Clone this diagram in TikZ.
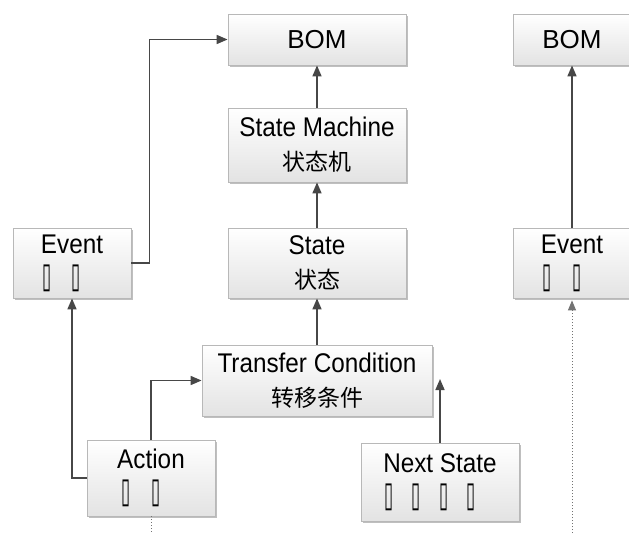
\documentclass[tikz,border=0pt]{standalone}
\usepackage{fontspec}
\usepackage{graphicx}
\setmainfont{Liberation Sans}
\newfontfamily\nar{Liberation Sans}[FakeStretch=0.9]
\newfontfamily\cjk{Noto Sans CJK SC}
\newfontfamily\dv{DejaVu Sans}
\usetikzlibrary{arrows.meta,shadows}
\newcommand{\tofu}{\scalebox{0.75}[1.6]{\dv\fontsize{22}{33}\selectfont ▯}}
\newcommand{\zh}[1]{{\cjk\fontsize{23}{34}\selectfont #1}}
\newcommand{\tail}{\hspace{20pt}\mbox{}}
\tikzset{
  box/.style={draw=black!28, line width=0.8pt, top color=white, bottom color=black!11,
    drop shadow={shadow xshift=1.5pt, shadow yshift=-1.5pt, opacity=0.25, fill=black},
    inner sep=0pt, align=center, font=\nar\fontsize{27}{34}\selectfont},
  bomfont/.style={font=\fontsize{26}{30}\selectfont},
  arr/.style={draw=black!72, line width=1.6pt, -{Triangle[length=11pt,width=9pt]}},
  dots/.style={draw=black!55, line width=1pt, dotted}
}
\begin{document}
\begin{tikzpicture}[x=1pt,y=-1pt]
\useasboundingbox (0,0) rectangle (629,533);
\fill[white] (0,0) rectangle (629,533);
\clip (0,0) rectangle (629,533);
\node[box, bomfont, minimum width=178pt, minimum height=51pt] (bom1) at (317,39.5) {BOM};
\node[box, minimum width=178pt, minimum height=74pt] (sm) at (317,145) {State Machine\\\zh{状态机}};
\node[box, minimum width=178pt, minimum height=70pt] (st) at (317,263) {State\\\zh{状态}};
\node[box, minimum width=118pt, minimum height=70pt] (ev) at (72,263) {Event\\\tofu\hspace{20pt}\tofu\tail};
\node[box, minimum width=230pt, minimum height=71pt] (tc) at (317,380.5) {Transfer Condition\\\zh{转移条件}};
\node[box, minimum width=128pt, minimum height=76pt] (ac) at (151,478) {Action\\\tofu\hspace{20pt}\tofu\tail};
\node[box, minimum width=158pt, minimum height=78pt] (ns) at (440,482) {Next State\\\tofu\hspace{18pt}\tofu\hspace{18pt}\tofu\hspace{18pt}\tofu\tail};
\node[box, bomfont, minimum width=118pt, minimum height=51pt] (bom2) at (572,39.5) {BOM};
\node[box, minimum width=118pt, minimum height=70pt] (ev2) at (572,263) {Event\\\tofu\hspace{20pt}\tofu\tail};
\coordinate (nsend) at (440,379);
\coordinate (acdown) at (151,533);
\coordinate (evdown) at (572,533);
\draw[arr] (ev.east) -- ++(18,0) |- (bom1.west);
\draw[arr] (sm.north) -- (bom1.south);
\draw[arr] (st.north) -- (sm.south);
\draw[arr] (tc.north) -- (st.south);
\draw[arr] (ac.west) -| (ev.south);
\draw[arr] (ac.north) |- (tc.west);
\draw[arr] (ns.north) -- (nsend);
\draw[arr] (ev2.north) -- (bom2.south);
\draw[dots] (ac.south) -- (acdown);
\draw[dots, -{Triangle[length=10pt,width=8pt]}] (evdown) -- ([yshift=-2pt]ev2.south);
\end{tikzpicture}
\end{document}
